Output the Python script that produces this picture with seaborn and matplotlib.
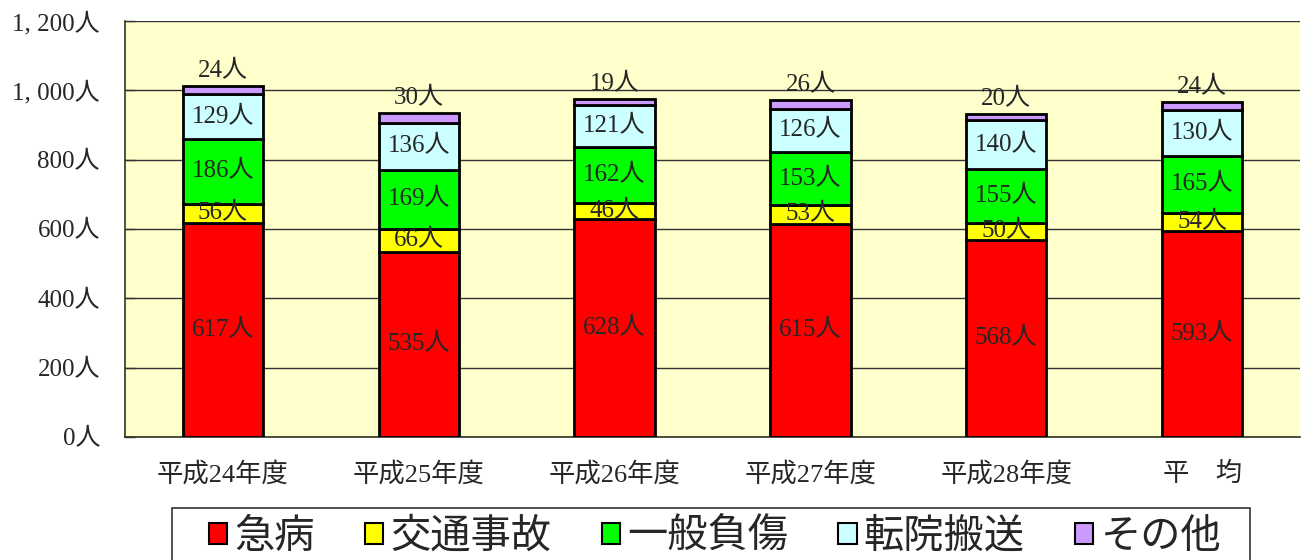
import numpy as np
import matplotlib
matplotlib.use("Agg")
import matplotlib.pyplot as plt
from matplotlib.patches import Patch, Rectangle
from matplotlib.ticker import FixedLocator
import seaborn as sns

sns.set_theme(style="white")
FONT = ["Liberation Serif", "Noto Sans CJK JP", "DejaVu Sans"]
plt.rcParams["font.family"] = FONT

categories = ["平成24年度", "平成25年度", "平成26年度", "平成27年度", "平成28年度", "平　均"]
series_names = ["急病", "交通事故", "一般負傷", "転院搬送", "その他"]
kyubyo = [617, 535, 628, 615, 568, 593]
kotsu = [56, 66, 46, 53, 50, 54]
ippan = [186, 169, 162, 153, 155, 165]
tenin = [129, 136, 121, 126, 140, 130]
sonota = [24, 30, 19, 26, 20, 24]
colors = ["#FF0000", "#FFFF00", "#00FF00", "#CCFFFF", "#CC99FF"]
yticks = [0, 200, 400, 600, 800, 1000, 1200]

series = [kyubyo, kotsu, ippan, tenin, sonota]

W, H = 1303, 560
fig = plt.figure(figsize=(W / 100, H / 100), dpi=100)
ax = fig.add_axes([125 / W, 1 - 437 / H, 1175 / W, 416 / H])
ax.set_facecolor("#FFFFCC")

bottoms = np.zeros(len(categories))
pos = np.arange(len(categories))
for i, (vals, col) in enumerate(zip(series, colors)):
    vals = np.array(vals)
    sns.barplot(x=categories, y=vals, bottom=bottoms, color=col, width=0.41,
                edgecolor="black", linewidth=2, saturation=1, ax=ax, zorder=3)
    for p, v, b in zip(pos, vals, bottoms):
        if i == 4:
            ax.text(p, b + v + 10, f"{v}人", ha="center", va="bottom",
                    fontsize=18, family=FONT, zorder=4)
        else:
            ax.text(p, b + v / 2, f"{v}人", ha="center", va="center",
                    fontsize=18, family=FONT, zorder=4)
    bottoms = bottoms + vals

ax.set_xlim(-0.5, 5.5)
ax.set_ylim(0, 1200)
ax.set_yticks(yticks)
ax.set_yticklabels([f"{v:,}人".replace(",", ", ") for v in yticks], fontsize=18, family=FONT)
ax.set_xticks(pos)
ax.set_xticklabels(categories, fontsize=19, family=FONT)
ax.xaxis.set_minor_locator(FixedLocator(pos[:-1] + 0.5))
ax.tick_params(axis="x", which="major", length=0, pad=18)
ax.tick_params(axis="x", which="minor", direction="in", length=8, width=1, color="#333333")
ax.tick_params(axis="y", direction="in", length=7, width=1, color="#333333", pad=18, left=True)
ax.grid(axis="y", color="#333333", linewidth=1, zorder=1)
ax.set_axisbelow(True)
ax.set_xlabel("")
ax.set_ylabel("")
for side in ["top", "right"]:
    ax.spines[side].set_visible(False)
for side in ["left", "bottom"]:
    ax.spines[side].set_color("#333322")
    ax.spines[side].set_linewidth(1.2)

# legend frame drawn separately so it runs off the bottom edge like the original
fig.patches.append(Rectangle((172 / W, 1 - 565 / H), 1078 / W, 57 / H,
                             transform=fig.transFigure, facecolor="white",
                             edgecolor="#333333", linewidth=1.2, zorder=0))
handles = [Patch(facecolor=c, edgecolor="black", linewidth=1.5, label=n)
           for c, n in zip(colors, series_names)]
fig.legend(handles=handles, loc="center", bbox_to_anchor=(715 / W, 1 - 538 / H),
           ncol=5, frameon=False, borderaxespad=0, borderpad=0,
           handlelength=0.45, handleheight=0.4, handletextpad=0.18,
           columnspacing=1.25, prop={"family": FONT, "size": 29})

fig.savefig("out.png", dpi=100)
